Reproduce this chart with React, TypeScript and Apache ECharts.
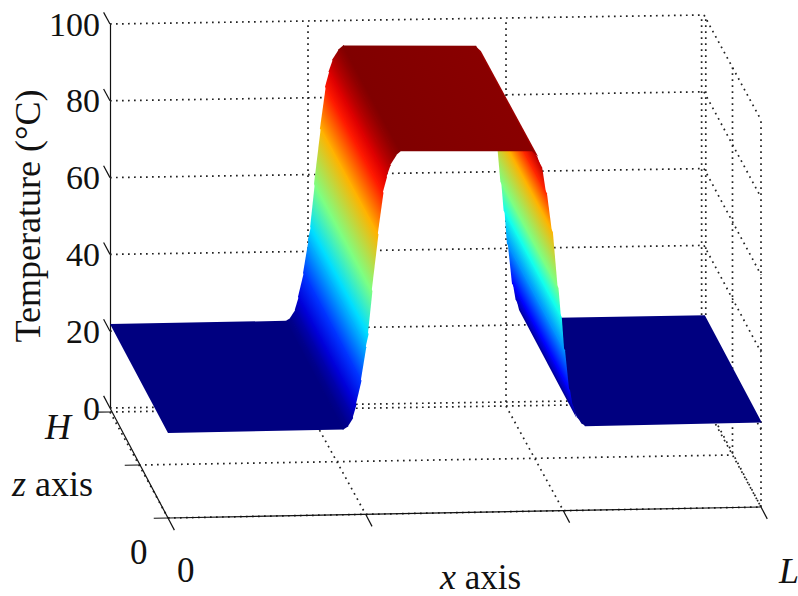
import React, { useEffect, useRef } from "react";
import * as echarts from "echarts";

const FONT = "'Liberation Serif', 'Times New Roman', serif";

// Surface profile along x (fraction of L) and temperature (deg C)
const xProfile = [0, 0.295, 0.303, 0.311, 0.3165, 0.325, 0.333, 0.337, 0.3434, 0.3535, 0.362, 0.368, 0.374, 0.384, 0.392, 0.615, 0.623, 0.631, 0.639, 0.649, 0.6585, 0.664, 0.6695, 0.678, 0.684, 0.69, 0.697, 0.703, 1];
const tempProfile = [21.9, 21.9, 22.7, 24.8, 28.2, 34.4, 43, 46.4, 57.5, 72, 82.8, 86.8, 89.8, 92.4, 93.5, 92.8, 91.4, 88.7, 82, 72, 57.5, 50, 41.4, 31, 26.8, 24, 22.4, 21.7, 21.7];
const tempTicks = [0, 20, 40, 60, 80, 100];
const xTicks = [0, 1 / 3, 2 / 3, 1];
const zTicks = [0, 0.5, 1];

const colorMin = 21.9;
const colorMax = 93.5;

// Box projection: z = 0 is the front of the box, z = 1 the back wall
const GRID = { left: 110, top: 24, width: 594, height: 384 };
const BACK = { bl: [110, 408], br: [704, 399], tl: [110, 24], tr: [704, 15] };
const FRONT = { bl: [168, 518], br: [761, 507], tl: [168, 130], tr: [761, 120] };
const FLOOR_DROP = -1.04; // the floor's back edge sits just below T = 0 of the back wall

function bilinear(c: any, u: number, v: number) {
  const b0 = c.bl[0] + (c.br[0] - c.bl[0]) * u;
  const b1 = c.bl[1] + (c.br[1] - c.bl[1]) * u;
  const t0 = c.tl[0] + (c.tr[0] - c.tl[0]) * u;
  const t1 = c.tl[1] + (c.tr[1] - c.tl[1]) * u;
  return [b0 + (t0 - b0) * v, b1 + (t1 - b1) * v];
}

function project(api: any, x: number, z: number, t: number) {
  const p = api.coord([x, t]);
  const u = (p[0] - GRID.left) / GRID.width;
  const v = (GRID.top + GRID.height - p[1]) / GRID.height;
  const f = bilinear(FRONT, u, v);
  const b = bilinear(BACK, u, v);
  return [f[0] + (b[0] - f[0]) * z, f[1] + (b[1] - f[1]) * z];
}

function jet(t: number) {
  const v = Math.max(0, Math.min(1, (t - colorMin) / (colorMax - colorMin)));
  const ramp = (a: number, b: number) => Math.max(0, Math.min(1, (v - a) / (b - a)));
  const r = v < 0.875 ? ramp(0.375, 0.625) : 1 - 0.5 * ramp(0.875, 1);
  const g = v < 0.625 ? ramp(0.125, 0.375) : 1 - ramp(0.625, 0.875);
  const b = v < 0.375 ? 0.5 + 0.5 * ramp(0, 0.125) : 1 - ramp(0.375, 0.625);
  return `rgb(${Math.round(r * 255)},${Math.round(g * 255)},${Math.round(b * 255)})`;
}

// [x0, t0, x1, t1], painted from x = L towards x = 0 so the plateau covers the far slope
const stripData: number[][] = [];
for (let i = xProfile.length - 2; i >= 0; i--) {
  stripData.push([xProfile[i], tempProfile[i], xProfile[i + 1], tempProfile[i + 1]]);
}

// [x0, z0, t0, x1, z1, t1, kind]: 0 dotted, 1 solid
const lineData: number[][] = [];
tempTicks.forEach((t) => {
  lineData.push([0, 1, t, 1, 1, t, 0]);
  lineData.push([1, 1, t, 1, 0, t, 0]);
});
xTicks.forEach((x) => {
  if (x > 0) lineData.push([x === 1 ? 0.996 : x, 1, 0, x === 1 ? 0.996 : x, 1, 100, 0]);
  lineData.push([x, 1, FLOOR_DROP, x, 0, 0, 0]);
});
zTicks.forEach((z) => {
  lineData.push([z === 1 ? 1.003 : 1, z, 0, z === 1 ? 1.003 : 1, z, 100, 0]);
  lineData.push([0, z, FLOOR_DROP * z, 1, z, FLOOR_DROP * z, 0]);
});
lineData.push([0, 0, 0, 1, 0, 0, 1]);
lineData.push([0, 1, 0, 0, 0, 0, 1]);
// tick marks: temperature ticks lean back along z, x ticks run on along z, z ticks run back along x
tempTicks.forEach((t) => lineData.push([0, 1, t, 0, 1.11, t, 1]));
xTicks.forEach((x) => lineData.push([x, 0, 0, x, -0.11, 0, 1]));
zTicks.forEach((z) => lineData.push([0, z, FLOOR_DROP * z, -0.024, z, FLOOR_DROP * z, 1]));

export default function App() {
  const ref = useRef<HTMLDivElement>(null);
  useEffect(() => {
    const chart = echarts.init(ref.current!, null, { renderer: "svg" });
    const textStyle = (text: string, x: number, y: number, extra: any = {}) => ({
      type: "text",
      x,
      y,
      style: {
        text,
        fontFamily: FONT,
        fontSize: 35,
        fill: "#111",
        verticalAlign: "middle",
        ...extra,
      },
    });
    const rich = { i: { fontStyle: "italic", fontFamily: FONT, fontSize: 36, fill: "#111", lineHeight: 32 } };
    chart.setOption({
      animation: false,
      backgroundColor: "#fff",
      grid: { ...GRID, containLabel: false, outerBoundsMode: "none" },
      xAxis: { type: "value", min: 0, max: 1, show: false },
      yAxis: {
        type: "value",
        min: 0,
        max: 100,
        interval: 20,
        name: "Temperature (°C)",
        nameLocation: "middle",
        nameGap: 64,
        nameRotate: 90,
        nameMoveOverlap: false,
        nameTextStyle: { fontFamily: FONT, fontSize: 36, color: "#111" },
        axisLine: { show: true, lineStyle: { color: "#111", width: 1.2 } },
        axisTick: { show: false },
        splitLine: { show: false },
        axisLabel: { fontFamily: FONT, fontSize: 34, color: "#111", margin: 10, padding: [0, 0, 4, 0] },
      },
      graphic: [
        textStyle("{i|H}", 45, 427, { rich }),
        textStyle("{i|z} axis", 12, 484, { rich, fontSize: 36, lineHeight: 32 }),
        textStyle("0", 130, 552),
        textStyle("0", 177, 570),
        textStyle("{i|x} axis", 440, 577, { rich, fontSize: 35, lineHeight: 32 }),
        textStyle("{i|L}", 779, 571, { rich }),
      ],
      series: [
        {
          type: "custom",
          coordinateSystem: "cartesian2d",
          silent: true,
          data: lineData,
          renderItem: (_: any, api: any) => {
            const a = project(api, api.value(0), api.value(1), api.value(2));
            const b = project(api, api.value(3), api.value(4), api.value(5));
            const solid = api.value(6) === 1;
            return {
              type: "line",
              shape: { x1: a[0], y1: a[1], x2: b[0], y2: b[1] },
              style: solid
                ? { stroke: "#111", lineWidth: 1.2, fill: "none" }
                : { stroke: "#222", lineWidth: 1.7, lineDash: [1.7, 4.3], fill: "none" },
            };
          },
        },
        {
          type: "custom",
          coordinateSystem: "cartesian2d",
          silent: true,
          data: stripData,
          renderItem: (_: any, api: any) => {
            const x0 = api.value(0);
            const t0 = api.value(1);
            const x1 = api.value(2);
            const t1 = api.value(3);
            const a0 = project(api, x0, 0, t0);
            const a1 = project(api, x0, 1, t0);
            const b0 = project(api, x1, 0, t1);
            const b1 = project(api, x1, 1, t1);
            // gradient across the strip, normal to the z direction
            const dx = a1[0] - a0[0];
            const dy = a1[1] - a0[1];
            const len = Math.hypot(dx, dy) || 1;
            const nx = -dy / len;
            const ny = dx / len;
            const d = (b0[0] - a0[0]) * nx + (b0[1] - a0[1]) * ny;
            const c0 = jet(t0);
            const c1 = jet(t1);
            const paint =
              Math.abs(d) < 0.05 || c0 === c1
                ? c0
                : new (echarts.graphic as any).LinearGradient(
                    a0[0], a0[1], a0[0] + nx * d, a0[1] + ny * d,
                    [{ offset: 0, color: c0 }, { offset: 1, color: c1 }],
                    true
                  );
            // the far edge is tucked under the strip painted next, which closes the seam
            const tuck = 0.9;
            const ex = nx * Math.sign(d || 1) * tuck;
            const ey = ny * Math.sign(d || 1) * tuck;
            return {
              type: "polygon",
              shape: {
                points: [a0, a1, [b1[0] + ex, b1[1] + ey], [b0[0] + ex, b0[1] + ey]],
              },
              style: { fill: paint },
            };
          },
        },
      ],
    });
    return () => chart.dispose();
  }, []);
  return <div ref={ref} style={{ position: "absolute", left: 0, top: 0, width: 798, height: 596 }} />;
}
